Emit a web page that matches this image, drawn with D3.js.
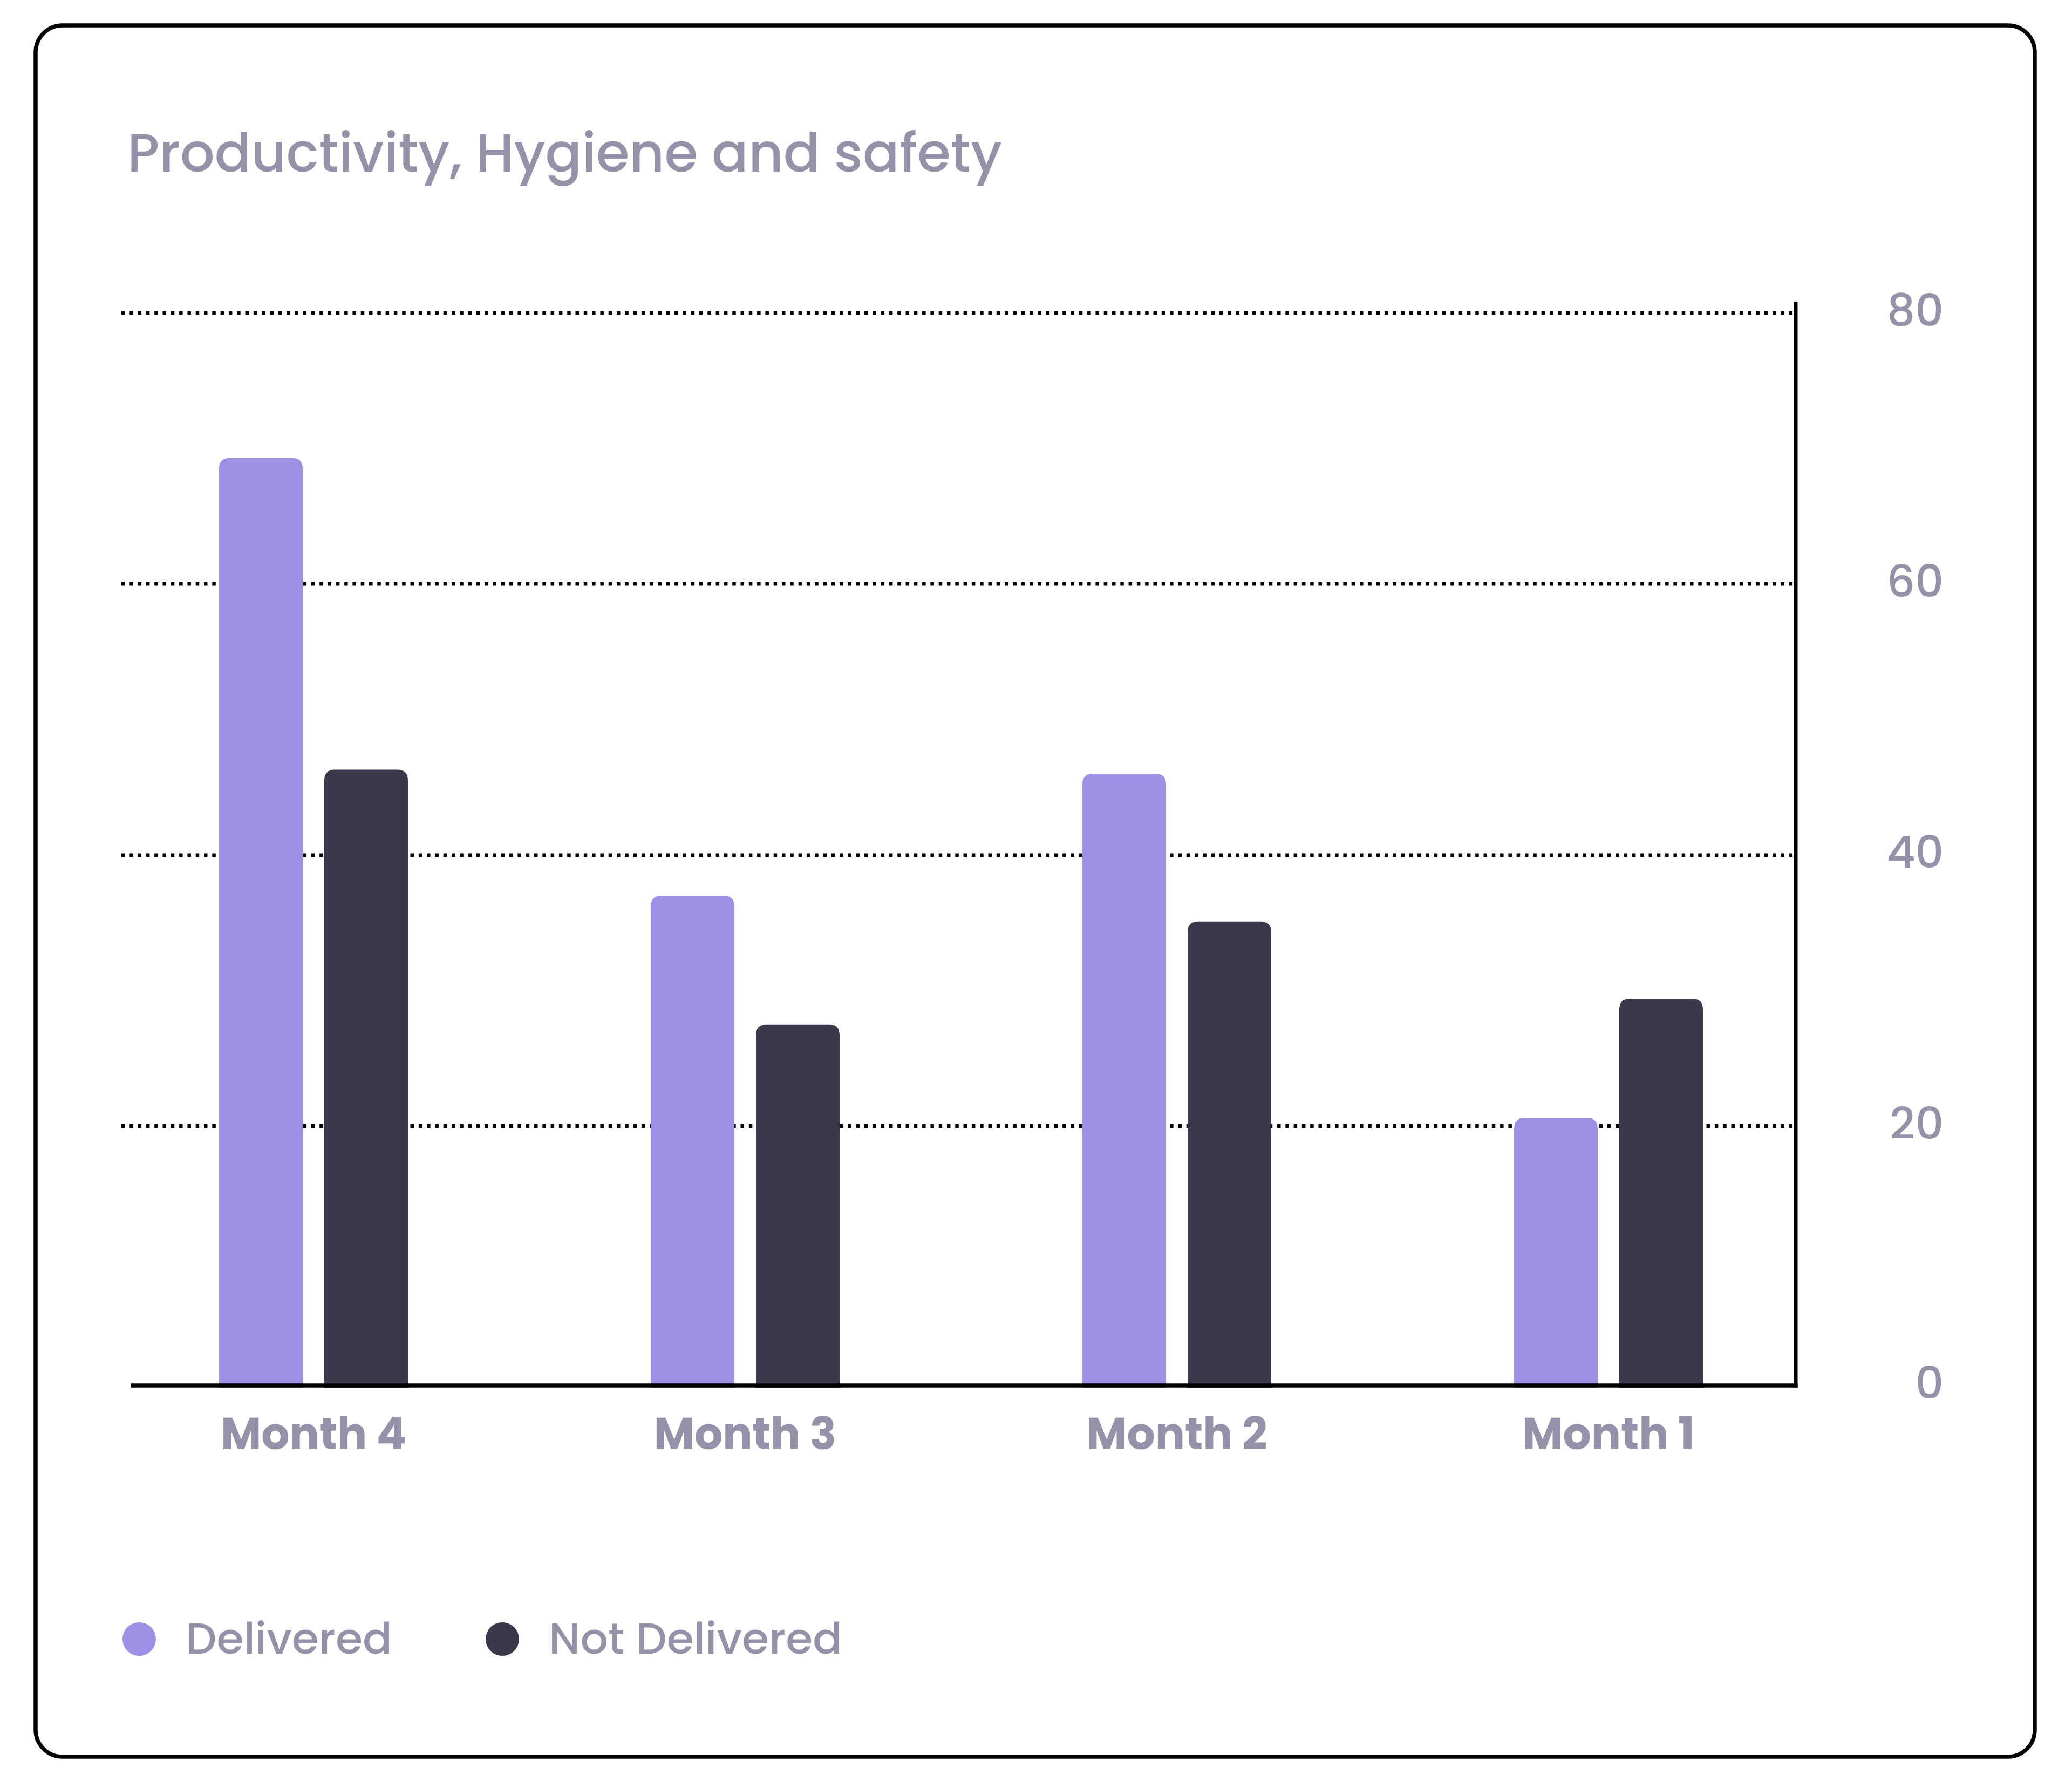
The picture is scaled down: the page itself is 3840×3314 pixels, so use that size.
<!DOCTYPE html>
<html>
<head>
<meta charset="utf-8">
<script src="https://cdn.jsdelivr.net/npm/d3@7"></script>
<style>
  html, body { margin: 0; padding: 0; background: #ffffff; }
  svg { display: block; }
</style>
</head>
<body>
<script>
// ---- data ----
const title = "Productivity, Hygiene and safety";
const categories = ["Month 4", "Month 3", "Month 2", "Month 1"];
const seriesNames = ["Delivered", "Not Delivered"];
const delivered = [69.3, 37.0, 46.0, 20.6];
const notDelivered = [46.3, 27.5, 35.1, 29.4];
const yTicks = [0, 20, 40, 60, 80];
const seriesColors = ["#9b8fe6", "#3b384b"];

// ---- layout ----
const W = 3840, H = 3314;
const textColor = "#9591a8";
const fontFamily = "Poppins, Inter, 'Noto Sans', sans-serif";

const svg = d3.select("body").append("svg")
  .attr("width", W).attr("height", H)
  .attr("viewBox", `0 0 ${W} ${H}`);

// card
svg.append("rect")
  .attr("x", 66).attr("y", 47)
  .attr("width", 3771 - 66).attr("height", 3256 - 47)
  .attr("rx", 50).attr("ry", 50)
  .attr("fill", "#ffffff")
  .attr("stroke", "#000000")
  .attr("stroke-width", 7.5);

// title
svg.append("text")
  .attr("x", 236).attr("y", 318)
  .attr("font-family", fontFamily)
  .attr("font-size", 100)
  .attr("font-weight", 500)
  .attr("fill", textColor)
  .text(title);

// scales
const axisX = 3328;
const gridX0 = 225;
const baseX0 = 243;

const y = d3.scaleLinear().domain([0.85, 80]).range([2568, 580]).clamp(true);

const x0 = d3.scaleBand().domain(categories)
  .range([181, 3381]).paddingInner(0.5625).paddingOuter(0.28125);
const x1 = d3.scaleBand().domain(seriesNames)
  .range([0, x0.bandwidth()]).paddingInner(0.205);

const rows = categories.map((c, i) => ({
  cat: c,
  values: [
    { key: seriesNames[0], value: delivered[i], color: seriesColors[0] },
    { key: seriesNames[1], value: notDelivered[i], color: seriesColors[1] }
  ]
}));

// gridlines (dotted)
const grid = svg.append("g").attr("class", "grid");
grid.selectAll("line")
  .data(yTicks.filter(t => t > 0))
  .join("line")
  .attr("x1", gridX0).attr("x2", axisX)
  .attr("y1", d => y(d)).attr("y2", d => y(d))
  .attr("stroke", "#000")
  .attr("stroke-width", 6.5)
  .attr("stroke-dasharray", "6.5 8.8");

// bars with rounded top corners
function topRoundedRect(x, yTop, w, yBot, r) {
  r = Math.min(r, (yBot - yTop), w / 2);
  return `M${x},${yBot}` +
    `L${x},${yTop + r}` +
    `Q${x},${yTop} ${x + r},${yTop}` +
    `L${x + w - r},${yTop}` +
    `Q${x + w},${yTop} ${x + w},${yTop + r}` +
    `L${x + w},${yBot}Z`;
}

const groups = svg.append("g").attr("class", "bars")
  .selectAll("g")
  .data(rows)
  .join("g")
  .attr("transform", d => `translate(${x0(d.cat)},0)`);

groups.selectAll("path")
  .data(d => d.values)
  .join("path")
  .attr("d", d => topRoundedRect(x1(d.key), y(d.value), x1.bandwidth(), y(0) + 4, 20))
  .attr("fill", d => d.color);

// baseline (x axis line) and right axis line
svg.append("line")
  .attr("x1", baseX0).attr("x2", axisX + 3.5)
  .attr("y1", y(0)).attr("y2", y(0))
  .attr("stroke", "#000").attr("stroke-width", 7.5);

svg.append("line")
  .attr("x1", axisX).attr("x2", axisX)
  .attr("y1", 559).attr("y2", y(0) + 3.5)
  .attr("stroke", "#000").attr("stroke-width", 7);

// y tick labels (right side)
svg.append("g").attr("class", "ylabels")
  .selectAll("text")
  .data(yTicks)
  .join("text")
  .attr("x", 3602)
  .attr("y", d => y(d) - 5)
  .attr("dy", "0.35em")
  .attr("text-anchor", "end")
  .attr("font-family", fontFamily)
  .attr("font-size", 82)
  .attr("font-weight", 500)
  .attr("fill", textColor)
  .text(d => d);

// x labels
svg.append("g").attr("class", "xlabels")
  .selectAll("text")
  .data(categories)
  .join("text")
  .attr("x", d => x0(d) + x0.bandwidth() / 2)
  .attr("y", 2686)
  .attr("text-anchor", "middle")
  .attr("font-family", fontFamily)
  .attr("font-size", 82)
  .attr("font-weight", 700)
  .attr("fill", textColor)
  .text(d => d);

// legend
const legendX = [258, 931];
const legend = svg.append("g").attr("class", "legend")
  .selectAll("g")
  .data(seriesNames)
  .join("g")
  .attr("transform", (d, i) => `translate(${legendX[i]},3038)`);

legend.append("circle")
  .attr("r", 31)
  .attr("fill", (d, i) => seriesColors[i]);

legend.append("text")
  .attr("x", 86)
  .attr("y", 27)
  .attr("font-family", fontFamily)
  .attr("font-size", 81)
  .attr("font-weight", 500)
  .attr("fill", textColor)
  .text(d => d);
</script>
</body>
</html>
